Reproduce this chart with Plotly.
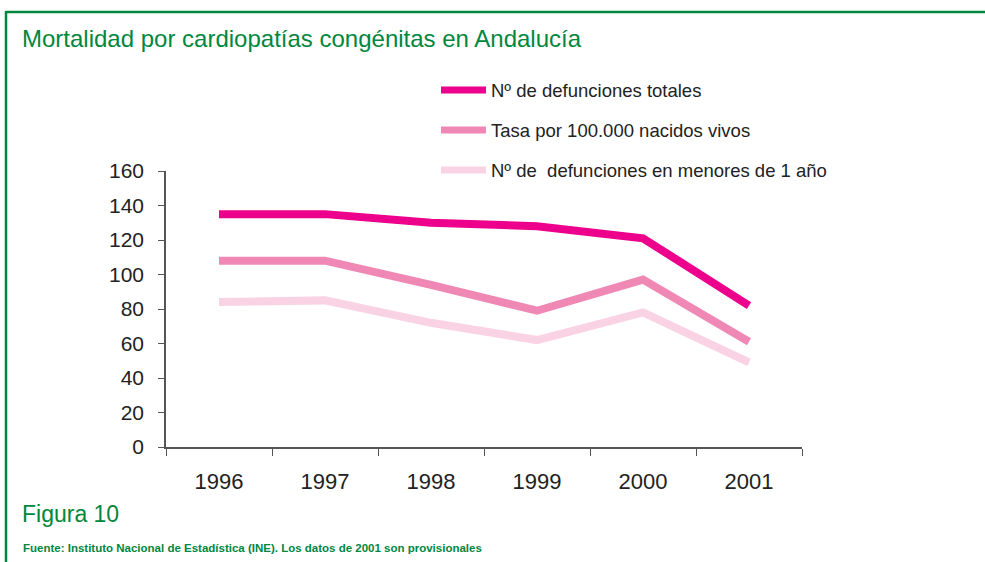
import plotly.graph_objects as go

W, H = 985, 562

years = ["1996", "1997", "1998", "1999", "2000", "2001"]
defunciones_totales = [135, 135, 130, 128, 121, 82]
tasa_100000 = [108, 108, 94, 79, 97, 61]
defunciones_menores_1 = [84, 85, 72, 62, 78, 49]

series_names = [
    "Nº de defunciones totales",
    "Tasa por 100.000 nacidos vivos",
    "Nº de  defunciones en menores de 1 año",
]
series_values = [defunciones_totales, tasa_100000, defunciones_menores_1]
series_colors = ["#EC008C", "#F088B6", "#F9D3E4"]

y_ticks = [0, 20, 40, 60, 80, 100, 120, 140, 160]

GREEN = "#00873E"
SANS = "Liberation Sans, Arial, sans-serif"


def px(x):
    return x / W


def py(y):
    return 1 - y / H


fig = go.Figure()
for name, vals, col in reversed(list(zip(series_names, series_values, series_colors))):
    fig.add_trace(go.Scatter(
        x=years, y=vals, mode="lines", name=name,
        line=dict(color=col, width=8), showlegend=False,
        hoverinfo="x+y+name",
    ))

shapes = []
annotations = []

# frame
shapes.append(dict(type="line", xref="paper", yref="paper", x0=px(6), x1=px(1000),
                   y0=py(12), y1=py(12), line=dict(color=GREEN, width=2.5)))
shapes.append(dict(type="line", xref="paper", yref="paper", x0=px(6), x1=px(6),
                   y0=py(11), y1=py(580), line=dict(color=GREEN, width=2.5)))

# legend drawn manually
legend_rows = [90, 130, 170]
for name, col, yy in zip(series_names, series_colors, legend_rows):
    shapes.append(dict(type="line", xref="paper", yref="paper", x0=px(441), x1=px(486),
                       y0=py(yy), y1=py(yy), line=dict(color=col, width=7)))
    annotations.append(dict(xref="paper", yref="paper", x=px(489), y=py(yy),
                            xanchor="left", yanchor="middle", showarrow=False,
                            text=name, font=dict(family=SANS, size=18.5, color="#222222")))

annotations.append(dict(xref="paper", yref="paper", x=px(20), y=py(39),
                        xanchor="left", yanchor="middle", showarrow=False,
                        text="Mortalidad por cardiopatías congénitas en Andalucía",
                        font=dict(family=SANS, size=24, color=GREEN)))
annotations.append(dict(xref="paper", yref="paper", x=px(20), y=py(514),
                        xanchor="left", yanchor="middle", showarrow=False,
                        text="Figura 10",
                        font=dict(family=SANS, size=23, color=GREEN)))
annotations.append(dict(xref="paper", yref="paper", x=px(21), y=py(548),
                        xanchor="left", yanchor="middle", showarrow=False,
                        text="<b>Fuente: Instituto Nacional de Estadística (INE). Los datos de 2001 son provisionales</b>",
                        font=dict(family=SANS, size=11.5, color=GREEN)))

fig.update_layout(
    template="none",
    width=W, height=H,
    margin=dict(l=0, r=0, t=0, b=0, pad=0, autoexpand=False),
    paper_bgcolor="white", plot_bgcolor="white",
    shapes=shapes, annotations=annotations,
    showlegend=False,
    font=dict(family=SANS, color="#222222"),
    xaxis=dict(
        domain=[px(166), px(802)],
        type="category", categoryorder="array", categoryarray=years,
        range=[-0.5, 5.5], automargin=False,
        tickson="boundaries", ticks="outside", ticklen=7, tickcolor="#555555",
        showline=True, linecolor="#555555", linewidth=1.5,
        showgrid=False, zeroline=False,
        tickfont=dict(size=22, color="#222222"),
        ticklabelstandoff=14,
    ),
    yaxis=dict(
        domain=[py(447), py(171)],
        range=[0, 160], tickvals=y_ticks, automargin=False,
        ticks="outside", ticklen=6, tickcolor="#555555",
        showline=True, linecolor="#555555", linewidth=1.5,
        showgrid=False, zeroline=False,
        tickfont=dict(size=21, color="#222222"),
        ticklabelstandoff=10,
    ),
)

fig.write_html(
    "out.html",
    config={"displayModeBar": False},
    post_script="document.body.style.margin='0';document.body.style.overflow='hidden';",
)
